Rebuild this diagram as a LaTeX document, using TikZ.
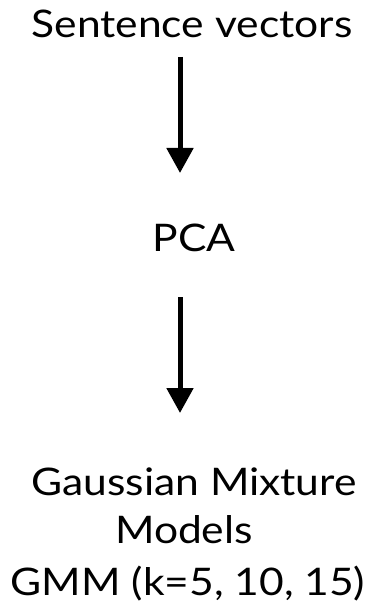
\documentclass[tikz,border=0pt]{standalone}
\usepackage{fontspec}
\setmainfont[FakeStretch=1.12]{Lato}
\usetikzlibrary{arrows.meta}
\tikzset{
  label text/.style={font=\fontsize{38bp}{50bp}\selectfont, inner sep=0pt, align=center, anchor=base},
  flow/.style={line width=5bp, -{Triangle[width=26bp,length=25bp]}}
}
\begin{document}
\begin{tikzpicture}[x=1bp,y=-1bp]
  \useasboundingbox (0,0) rectangle (375,613);
  \node[label text] (sv) at (192,38) {Sentence vectors};
  \node[label text] (pca) at (194,251) {PCA};
  \node[label text] (gmm1) at (194,495) {Gaussian Mixture};
  \node[label text] (gmm2) at (184,543) {Models};
  \node[label text] (gmm3) at (188,595) {GMM (k=5, 10, 15)};
  \coordinate (a1s) at (180,57);
  \coordinate (a1e) at (180,173);
  \coordinate (a2s) at (180,297);
  \coordinate (a2e) at (180,413);
  \draw[flow] (a1s) -- (a1e);
  \draw[flow] (a2s) -- (a2e);
\end{tikzpicture}
\end{document}
